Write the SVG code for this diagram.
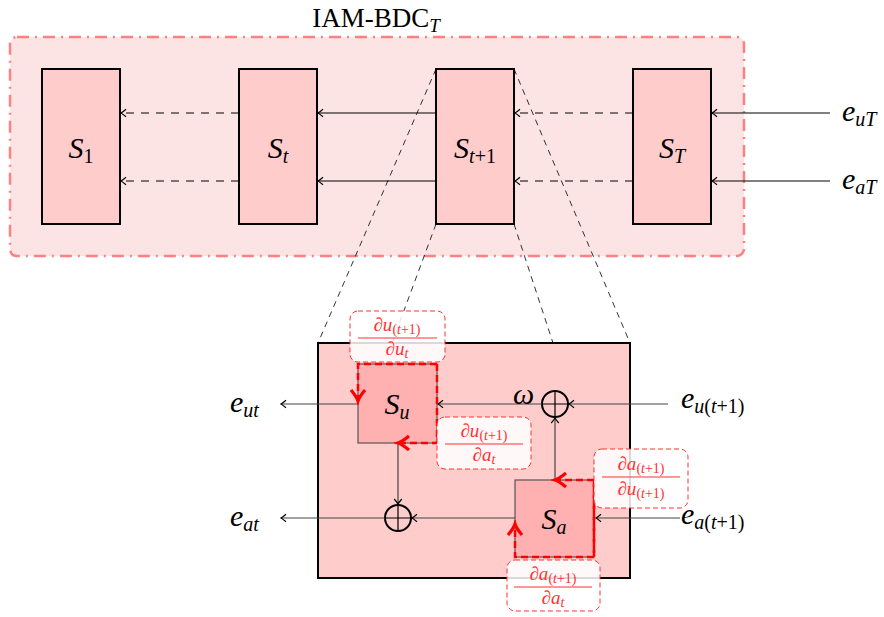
<svg xmlns="http://www.w3.org/2000/svg" width="884" height="617" viewBox="0 0 884 617">
<style>
.serif{font-family:"Liberation Serif","DejaVu Serif",serif;}
.it{font-style:italic;}
.big{font-size:30px;}
.sub{font-size:20px;}
.frac{font-family:"Liberation Serif","DejaVu Serif",serif;font-size:19px;fill:#ff3030;font-style:italic;}
.fsub{font-size:14px;}
.node{fill:#ffcccc;stroke:#000;stroke-width:2;}
.inner{fill:#ffb0b0;stroke:#555;stroke-width:1.2;}
.conn{stroke:#000;stroke-width:1;fill:none;}
.conng{stroke:#444;stroke-width:1.2;fill:none;}
.dash{stroke-dasharray:8,7;}
.zoom{stroke:#000;stroke-width:0.8;stroke-dasharray:6,5;fill:none;}
.red{stroke:#ff0000;stroke-width:2.5;stroke-dasharray:7,4;fill:none;}
.lbl{fill:#ffffff;fill-opacity:0.85;stroke:#ff3030;stroke-width:1;stroke-dasharray:5,3;}
</style>
<defs>
<marker id="ah" markerWidth="10" markerHeight="10" viewBox="-6 -5 8 10" refX="0" refY="0" orient="auto" markerUnits="userSpaceOnUse">
<path d="M -5 -3.8 Q -1.5 -0.8 0 0 Q -1.5 0.8 -5 3.8" stroke="#000" stroke-width="1.2" fill="none"/>
</marker>
<marker id="ahr" markerWidth="18" markerHeight="18" viewBox="-12 -9 14 18" refX="0" refY="0" orient="auto" markerUnits="userSpaceOnUse">
<path d="M -11 -7 Q -4 -1.2 0 0 Q -4 1.2 -11 7" stroke="#ff0000" stroke-width="3.2" fill="none"/>
</marker>
</defs>

<text x="376" y="27" class="serif" font-size="27" text-anchor="middle">IAM-BDC<tspan class="it" font-size="19" dy="5">T</tspan></text>

<rect x="10" y="37" width="734" height="219" rx="7" fill="#fde4e4" stroke="#ff8080" stroke-width="2.5" stroke-dasharray="12,6,2,6"/>

<g id="zoomlines">
<path class="zoom" d="M436 69 L318 343 M514 69 L630 343 M436 224 L392 343 M514 224 L553 343"/>
</g>

<g id="S1"><rect class="node" x="42" y="69" width="78" height="155"/><text x="81" y="158" class="serif big" text-anchor="middle"><tspan class="it">S</tspan><tspan class="sub" dy="5">1</tspan></text></g>
<g id="St"><rect class="node" x="239" y="69" width="78" height="155"/><text x="278" y="158" class="serif big" text-anchor="middle"><tspan class="it">S</tspan><tspan class="sub it" dy="5">t</tspan></text></g>
<g id="St1"><rect class="node" x="436" y="69" width="78" height="155"/><text x="475" y="158" class="serif big" text-anchor="middle"><tspan class="it">S</tspan><tspan class="sub" dy="5"><tspan class="it">t</tspan>+1</tspan></text></g>
<g id="ST"><rect class="node" x="633" y="69" width="78" height="155"/><text x="672" y="158" class="serif big" text-anchor="middle"><tspan class="it">S</tspan><tspan class="sub it" dy="5">T</tspan></text></g>

<g id="connectors">
<line class="conn dash" x1="633" y1="113" x2="515" y2="113" marker-end="url(#ah)"/>
<line class="conn dash" x1="633" y1="181" x2="515" y2="181" marker-end="url(#ah)"/>
<line class="conn" x1="436" y1="113" x2="318" y2="113" marker-end="url(#ah)"/>
<line class="conn" x1="436" y1="181" x2="318" y2="181" marker-end="url(#ah)"/>
<line class="conn dash" x1="239" y1="113" x2="121" y2="113" marker-end="url(#ah)"/>
<line class="conn dash" x1="239" y1="181" x2="121" y2="181" marker-end="url(#ah)"/>
<line class="conn" x1="830" y1="113" x2="712" y2="113" marker-end="url(#ah)"/>
<line class="conn" x1="830" y1="181" x2="712" y2="181" marker-end="url(#ah)"/>
</g>
<text x="842" y="121" class="serif big"><tspan class="it">e</tspan><tspan class="sub it" dy="5">uT</tspan></text>
<text x="842" y="189" class="serif big"><tspan class="it">e</tspan><tspan class="sub it" dy="5">aT</tspan></text>

<g id="bigbox"><rect x="318" y="343" width="312" height="235" fill="#ffcccc" stroke="#000" stroke-width="2"/></g>

<g id="Su"><rect class="inner" x="358" y="364" width="79" height="79"/><text x="397" y="414" class="serif big" text-anchor="middle"><tspan class="it">S</tspan><tspan class="sub it" dy="5">u</tspan></text></g>
<g id="Sa"><rect class="inner" x="515" y="480" width="79" height="77"/><text x="554" y="529" class="serif big" text-anchor="middle"><tspan class="it">S</tspan><tspan class="sub it" dy="5">a</tspan></text></g>

<g id="plus1"><circle cx="555" cy="404" r="13" fill="none" stroke="#000" stroke-width="2"/><path d="M542 404 H568 M555 391 V417" stroke="#000" stroke-width="1.2"/></g>
<g id="plus2"><circle cx="398" cy="518" r="13" fill="none" stroke="#000" stroke-width="2"/><path d="M385 518 H411 M398 505 V531" stroke="#000" stroke-width="1.2"/></g>

<g id="inner-connectors">
<line class="conng" x1="668" y1="404" x2="569" y2="404" marker-end="url(#ah)"/>
<line class="conng" x1="542" y1="404" x2="438" y2="404" marker-end="url(#ah)"/>
<line class="conng" x1="555" y1="480" x2="555" y2="418" marker-end="url(#ah)"/>
<line class="conng" x1="358" y1="404" x2="281" y2="404" marker-end="url(#ah)"/>
<line class="conng" x1="398" y1="443" x2="398" y2="504" marker-end="url(#ah)"/>
<line class="conng" x1="515" y1="518" x2="412" y2="518" marker-end="url(#ah)"/>
<line class="conng" x1="385" y1="518" x2="281" y2="518" marker-end="url(#ah)"/>
<line class="conng" x1="680" y1="518" x2="596" y2="518" marker-end="url(#ah)"/>
<path class="red" d="M437 364 H358 V401" marker-end="url(#ahr)"/>
<path class="red" d="M437 364 V443 H398" marker-end="url(#ahr)"/>
<path class="red" d="M594 557 V480 H555" marker-end="url(#ahr)"/>
<path class="red" d="M594 480 V557 H515 V524" marker-end="url(#ahr)"/>
</g>

<text x="513" y="404" class="serif it big">ω</text>
<text x="230" y="412" class="serif big"><tspan class="it">e</tspan><tspan class="sub it" dy="5">ut</tspan></text>
<text x="230" y="526" class="serif big"><tspan class="it">e</tspan><tspan class="sub it" dy="5">at</tspan></text>
<text x="681" y="408" class="serif big"><tspan class="it">e</tspan><tspan class="sub" dy="5"><tspan class="it">u</tspan>(<tspan class="it">t</tspan>+1)</tspan></text>
<text x="681" y="524" class="serif big"><tspan class="it">e</tspan><tspan class="sub" dy="5"><tspan class="it">a</tspan>(<tspan class="it">t</tspan>+1)</tspan></text>

<g id="lbl1"><rect class="lbl" x="350" y="311" width="95" height="51" rx="8"/>
<text x="397" y="331" class="frac" text-anchor="middle">∂u<tspan class="fsub" dy="3" font-style="normal">(<tspan font-style="italic">t</tspan>+1)</tspan></text>
<line x1="358" y1="338" x2="437" y2="338" stroke="#ff3030" stroke-width="1"/>
<text x="397" y="355" class="frac" text-anchor="middle">∂u<tspan class="fsub" dy="3">t</tspan></text></g>

<g id="lbl2"><rect class="lbl" x="437" y="417" width="94" height="52" rx="8"/>
<text x="484" y="437" class="frac" text-anchor="middle">∂u<tspan class="fsub" dy="3" font-style="normal">(<tspan font-style="italic">t</tspan>+1)</tspan></text>
<line x1="445" y1="444" x2="523" y2="444" stroke="#ff3030" stroke-width="1"/>
<text x="484" y="461" class="frac" text-anchor="middle">∂a<tspan class="fsub" dy="3">t</tspan></text></g>

<g id="lbl3"><rect class="lbl" x="594" y="449" width="94" height="59" rx="8"/>
<text x="641" y="470" class="frac" text-anchor="middle">∂a<tspan class="fsub" dy="3" font-style="normal">(<tspan font-style="italic">t</tspan>+1)</tspan></text>
<line x1="602" y1="477" x2="680" y2="477" stroke="#ff3030" stroke-width="1"/>
<text x="641" y="495" class="frac" text-anchor="middle">∂u<tspan class="fsub" dy="3" font-style="normal">(<tspan font-style="italic">t</tspan>+1)</tspan></text></g>

<g id="lbl4"><rect class="lbl" x="507" y="560" width="93" height="51" rx="8"/>
<text x="553" y="580" class="frac" text-anchor="middle">∂a<tspan class="fsub" dy="3" font-style="normal">(<tspan font-style="italic">t</tspan>+1)</tspan></text>
<line x1="514" y1="587" x2="592" y2="587" stroke="#ff3030" stroke-width="1"/>
<text x="553" y="604" class="frac" text-anchor="middle">∂a<tspan class="fsub" dy="3">t</tspan></text></g>
</svg>
